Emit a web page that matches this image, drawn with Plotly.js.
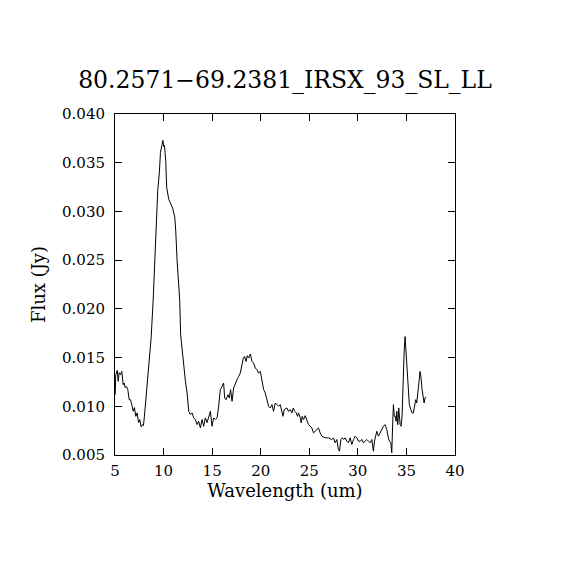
<!DOCTYPE html>
<html>
<head>
<meta charset="utf-8">
<script src="https://cdn.plot.ly/plotly-3.0.1.min.js"></script>
<style>html,body{margin:0;padding:0;background:#fff;}#chart{width:570px;height:570px;}</style>
</head>
<body>
<div id="chart"></div>
<script>
const wavelength = [5.02,5.08,5.23,5.33,5.43,5.57,5.70,5.84,5.95,6.05,6.18,6.32,6.46,6.59,6.73,6.87,7.00,7.14,7.28,7.42,7.55,7.69,7.83,7.93,8.03,8.17,8.31,8.44,8.58,8.72,8.93,9.13,9.34,9.40,9.57,9.68,9.83,9.93,10.02,10.09,10.22,10.32,10.53,10.78,10.94,11.15,11.25,11.39,11.56,11.66,11.76,12.01,12.25,12.42,12.59,12.76,12.94,13.10,13.27,13.45,13.61,13.79,13.96,14.13,14.30,14.48,14.64,14.82,14.99,15.16,15.33,15.51,15.67,15.84,16.02,16.18,16.29,16.43,16.64,16.77,16.90,17.05,17.21,17.39,17.56,17.73,17.90,18.07,18.21,18.34,18.49,18.62,18.75,18.93,19.10,19.27,19.44,19.62,19.78,19.96,20.13,20.30,20.47,20.64,20.81,20.98,21.16,21.32,21.50,21.67,21.84,22.01,22.19,22.29,22.42,22.70,22.86,23.04,23.21,23.35,23.50,23.66,23.79,23.89,24.07,24.17,24.27,24.41,24.58,24.76,24.92,25.10,25.27,25.43,25.61,25.78,25.95,26.12,26.30,26.64,26.98,27.33,27.49,27.66,27.84,28.00,28.11,28.25,28.39,28.54,28.69,28.87,29.03,29.21,29.38,29.55,29.72,29.90,30.06,30.24,30.41,30.57,30.75,30.92,31.09,31.26,31.44,31.60,31.71,31.81,31.95,32.12,32.29,32.46,32.63,32.80,32.98,33.14,33.25,33.39,33.49,33.60,33.66,33.76,33.86,33.94,34.01,34.11,34.21,34.35,34.45,34.55,34.66,34.76,34.86,34.96,35.07,35.17,35.30,35.45,35.58,35.71,35.86,35.96,36.06,36.20,36.30,36.40,36.51,36.61,36.71,36.82,36.92,36.99];
const flux = [0.01119,0.01324,0.01368,0.01256,0.01345,0.01324,0.01358,0.01222,0.01239,0.01191,0.01204,0.01171,0.01068,0.01068,0.01017,0.00949,0.00986,0.00897,0.00932,0.00833,0.00864,0.00789,0.00812,0.00802,0.00897,0.01068,0.01242,0.01409,0.01580,0.01703,0.02092,0.02573,0.02910,0.03217,0.03404,0.03606,0.03678,0.03729,0.03667,0.03678,0.03524,0.03248,0.03125,0.03064,0.03033,0.02941,0.02808,0.02501,0.02296,0.02092,0.01733,0.01444,0.01256,0.01137,0.00949,0.00915,0.00932,0.00881,0.00864,0.00812,0.00846,0.00779,0.00864,0.00795,0.00881,0.00833,0.00881,0.00949,0.00795,0.00881,0.00864,0.00881,0.01000,0.01171,0.01204,0.01239,0.01086,0.01068,0.01119,0.01086,0.01171,0.01051,0.01188,0.01239,0.01273,0.01307,0.01341,0.01426,0.01495,0.01511,0.01460,0.01519,0.01495,0.01536,0.01460,0.01444,0.01393,0.01375,0.01341,0.01358,0.01239,0.01171,0.01137,0.01051,0.01000,0.00983,0.01017,0.00949,0.01034,0.01017,0.01000,0.01017,0.00949,0.00897,0.00966,0.00983,0.00949,0.00966,0.00932,0.00983,0.00949,0.00932,0.00897,0.00932,0.00881,0.00830,0.00897,0.00864,0.00904,0.00846,0.00812,0.00795,0.00778,0.00727,0.00744,0.00761,0.00778,0.00727,0.00693,0.00676,0.00676,0.00659,0.00676,0.00625,0.00659,0.00556,0.00539,0.00659,0.00676,0.00659,0.00676,0.00642,0.00625,0.00676,0.00608,0.00659,0.00693,0.00676,0.00642,0.00642,0.00659,0.00625,0.00642,0.00659,0.00642,0.00625,0.00659,0.00539,0.00642,0.00676,0.00744,0.00693,0.00727,0.00761,0.00795,0.00812,0.00761,0.00676,0.00642,0.00625,0.00523,0.00864,0.01017,0.00897,0.00897,0.00846,0.00949,0.00812,0.00983,0.00812,0.00795,0.00897,0.01307,0.01546,0.01716,0.01563,0.01341,0.01171,0.01017,0.00966,0.00932,0.00932,0.01000,0.01068,0.01034,0.01137,0.01256,0.01358,0.01290,0.01171,0.01086,0.01034,0.01086,0.01096];
const xTicks = [5,10,15,20,25,30,35,40];
const yTicks = [0.005,0.010,0.015,0.020,0.025,0.030,0.035,0.040];
const titleText = "80.2571\u221269.2381_IRSX_93_SL_LL";
const xTitle = "Wavelength (um)";
const yTitle = "Flux (Jy)";

const serif = "DejaVu Serif, Liberation Serif, serif";
const axisCommon = {
  showgrid: false, zeroline: false, showline: true, linecolor: '#000', linewidth: 1,
  mirror: 'ticks', ticks: 'inside', ticklen: 7, tickwidth: 1, tickcolor: '#000',
  tickfont: {family: serif, size: 15, color: '#000'}
};
Plotly.newPlot('chart', [{
  x: wavelength, y: flux, type: 'scatter', mode: 'lines',
  line: {color: '#000', width: 1}, hoverinfo: 'skip'
}], {
  width: 570, height: 570,
  paper_bgcolor: '#fff', plot_bgcolor: '#fff',
  margin: {l: 115, r: 115, t: 114, b: 115},
  showlegend: false,
  title: {text: titleText, font: {family: serif, size: 23.5, color: '#000'}, x: 0.5, xanchor: 'center', y: 0.86, yanchor: 'middle'},
  xaxis: Object.assign({}, axisCommon, {range: [5, 40], tickvals: xTicks, ticktext: xTicks.map(String), ticklabelstandoff: 2,
    title: {text: xTitle, font: {family: serif, size: 18, color: '#000'}, standoff: 4}}),
  yaxis: Object.assign({}, axisCommon, {range: [0.005, 0.040], tickvals: yTicks, ticktext: yTicks.map(v => v.toFixed(3)), ticklabelstandoff: 6,
    title: {text: yTitle, font: {family: serif, size: 18, color: '#000'}, standoff: 11}})
}, {staticPlot: true});
</script>
</body>
</html>
